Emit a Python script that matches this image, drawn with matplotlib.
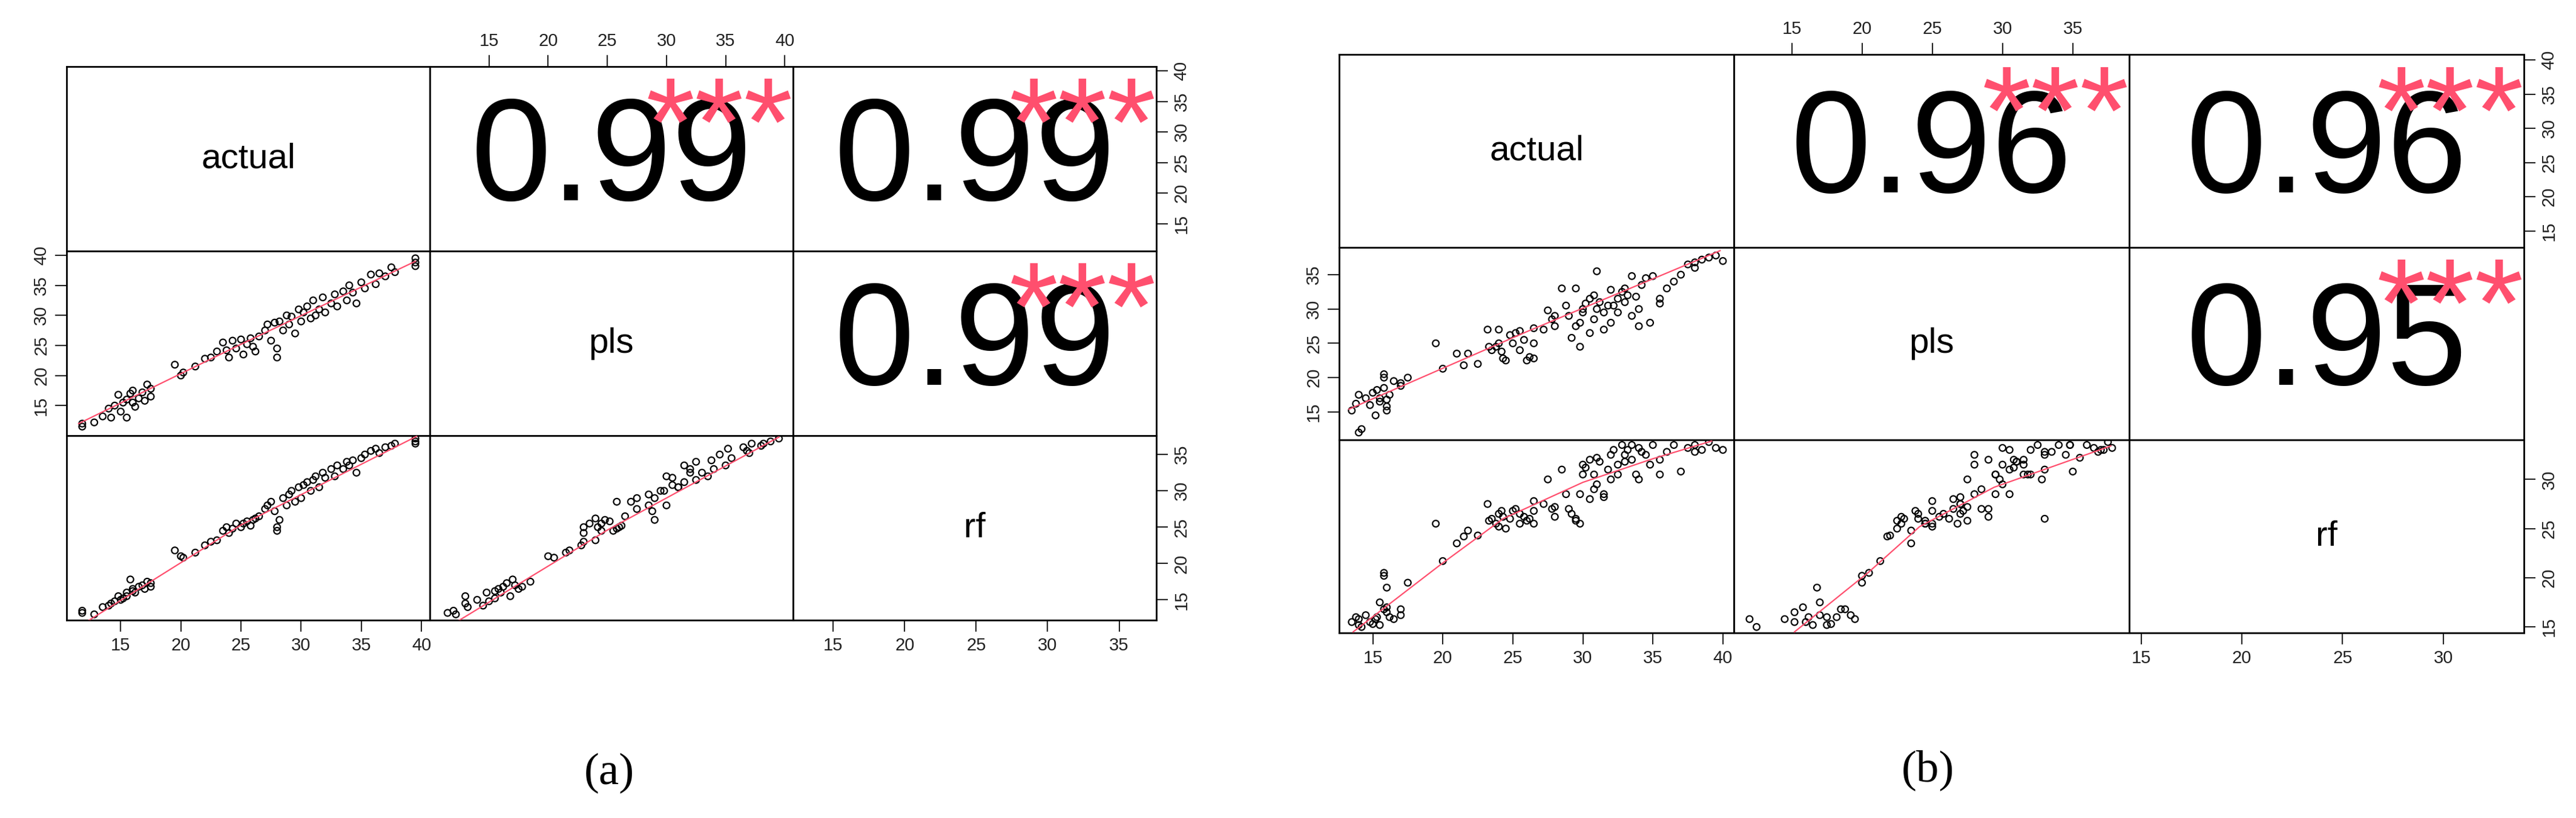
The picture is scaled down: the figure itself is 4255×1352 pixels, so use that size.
import matplotlib
matplotlib.use("Agg")
import matplotlib.pyplot as plt

plt.rcParams['font.family'] = ['Liberation Sans', 'DejaVu Sans']

NAMES = ["actual", "pls", "rf"]

# panel (a) observations
A_ACTUAL = [11.8, 11.8, 12.8, 13.5, 14.0, 14.2, 14.5, 14.8, 15.0, 15.2, 15.5, 15.5, 15.8, 16.0,
            16.0, 16.2, 16.5, 16.8, 17.0, 17.2, 17.5, 17.5, 19.5, 20.0, 20.2, 21.2, 22.0, 22.5,
            23.0, 23.5, 23.8, 24.0, 24.3, 24.6, 25.0, 25.2, 25.5, 25.8, 26.0, 26.2, 26.5, 27.0,
            27.2, 27.5, 27.8, 28.0, 28.0, 28.2, 28.5, 28.8, 29.0, 29.2, 29.5, 29.8, 30.0, 30.2,
            30.5, 30.8, 31.0, 31.2, 31.5, 31.8, 32.0, 32.5, 32.8, 33.0, 33.5, 33.8, 34.0, 34.3,
            34.6, 35.0, 35.3, 35.8, 36.2, 36.5, 37.0, 37.5, 37.8, 39.5, 39.5, 39.5]
A_PLS = [11.5, 12.0, 12.2, 13.2, 14.5, 13.0, 15.0, 16.8, 14.0, 15.5, 16.0, 13.0, 17.0, 15.5,
         17.5, 14.8, 16.2, 17.2, 15.8, 18.5, 16.5, 17.8, 21.8, 20.0, 20.5, 21.5, 22.8, 23.0,
         24.0, 25.5, 24.2, 23.0, 25.8, 24.5, 26.0, 23.5, 25.2, 26.2, 24.8, 24.0, 26.5, 27.5,
         28.5, 25.8, 28.8, 24.5, 23.0, 29.0, 27.5, 30.0, 28.5, 29.8, 27.0, 31.0, 29.0, 30.5,
         31.5, 29.5, 32.5, 30.0, 31.0, 33.0, 30.5, 32.0, 33.5, 31.5, 34.0, 32.5, 35.0, 33.8,
         32.0, 35.5, 34.5, 36.8, 35.2, 37.0, 36.5, 38.0, 37.2, 38.2, 39.5, 38.8]
A_RF = [13.2, 13.5, 13.0, 14.0, 14.2, 14.5, 14.8, 15.5, 15.0, 15.2, 16.0, 15.5, 17.8, 16.2,
        16.5, 16.0, 16.8, 17.0, 16.5, 17.5, 17.3, 16.8, 21.8, 21.0, 20.8, 21.5, 22.5, 23.0,
        23.2, 24.5, 25.0, 24.2, 24.8, 25.5, 25.0, 25.5, 25.8, 25.2, 26.0, 26.2, 26.5, 27.5,
        28.0, 28.5, 27.2, 24.5, 25.0, 26.0, 29.0, 28.0, 29.5, 30.0, 28.5, 30.5, 29.0, 30.8,
        31.2, 30.0, 31.5, 32.0, 30.5, 32.5, 31.8, 33.0, 32.0, 33.5, 33.0, 34.0, 33.5, 34.2,
        32.5, 34.5, 35.0, 35.5, 35.8, 35.2, 36.0, 36.2, 36.5, 36.5, 37.2, 36.8]

# panel (b) observations
B_ACTUAL = [13.5, 13.8, 14.0, 14.0, 14.2, 14.5, 14.8, 15.0, 15.2, 15.3, 15.5, 15.5, 15.8, 15.8,
            15.8, 16.0, 16.0, 16.0, 16.2, 16.5, 17.0, 17.0, 17.5, 19.5, 20.0, 21.0, 21.5, 21.8,
            22.5, 23.2, 23.3, 23.5, 23.8, 24.0, 24.0, 24.2, 24.3, 24.5, 24.8, 25.0, 25.2, 25.5,
            25.5, 25.8, 26.0, 26.2, 26.5, 26.5, 26.5, 27.2, 27.5, 27.8, 28.0, 28.0, 28.5, 28.8,
            29.0, 29.2, 29.5, 29.5, 29.8, 29.8, 30.0, 30.0, 30.2, 30.5, 30.5, 30.8, 30.8, 31.0,
            31.0, 31.2, 31.5, 31.5, 31.8, 32.0, 32.0, 32.2, 32.5, 32.5, 32.8, 33.0, 33.0, 33.2,
            33.5, 33.5, 33.8, 34.0, 34.0, 34.2, 34.5, 34.8, 35.0, 35.5, 35.5, 36.0, 36.5, 37.0,
            37.5, 38.0, 38.0, 38.5, 39.0, 39.5, 40.0]
B_PLS = [15.2, 16.2, 17.5, 12.0, 12.5, 17.0, 16.0, 17.8, 14.5, 18.2, 16.5, 17.0, 20.5, 20.0,
         18.5, 16.8, 15.2, 15.8, 17.5, 19.5, 18.8, 19.2, 20.0, 25.0, 21.3, 23.5, 21.8, 23.5,
         22.0, 27.0, 24.5, 24.0, 24.5, 27.0, 25.0, 23.8, 22.8, 22.5, 26.2, 25.0, 26.5, 24.0,
         26.8, 25.5, 22.5, 23.0, 25.0, 27.2, 22.8, 27.0, 29.8, 28.5, 27.5, 29.0, 33.0, 30.5,
         29.0, 25.8, 27.5, 33.0, 28.0, 24.5, 30.0, 29.5, 30.8, 31.5, 26.5, 32.0, 28.5, 35.5,
         30.0, 31.0, 27.0, 29.5, 30.5, 32.8, 28.0, 30.5, 31.5, 29.5, 32.5, 33.0, 31.0, 32.0,
         29.0, 34.8, 31.8, 30.0, 27.5, 33.5, 34.5, 28.0, 34.8, 31.5, 30.8, 33.0, 34.0, 35.0,
         36.5, 36.0, 36.8, 37.2, 37.5, 37.8, 37.0]
B_RF = [15.5, 16.0, 15.2, 15.8, 15.0, 16.2, 15.5, 15.3, 15.8, 16.0, 15.2, 17.5, 20.5, 20.2,
        16.8, 19.0, 16.5, 17.0, 16.0, 15.8, 16.8, 16.2, 19.5, 25.5, 21.7, 23.5, 24.2, 24.8,
        24.3, 27.5, 25.8, 26.0, 25.5, 26.5, 25.2, 26.8, 26.2, 25.0, 26.0, 26.8, 27.0, 26.5,
        25.5, 26.2, 25.8, 26.0, 27.8, 26.8, 25.5, 27.5, 30.0, 27.0, 27.2, 26.2, 31.0, 28.5,
        27.0, 26.5, 25.8, 26.0, 28.5, 25.5, 31.5, 30.5, 31.2, 32.0, 28.0, 30.5, 29.0, 32.2,
        29.5, 31.8, 28.2, 28.5, 31.0, 30.0, 32.5, 33.0, 31.5, 30.5, 33.5, 32.5, 31.8, 33.0,
        32.0, 33.5, 30.5, 33.2, 30.0, 32.8, 32.5, 31.5, 33.5, 30.5, 32.0, 32.8, 33.5, 30.8,
        33.2, 33.5, 32.8, 33.0, 33.8, 33.2, 33.0]

# smoother (red) lines: (x, y) vertices per lower panel
A_SMOOTH = {(1, 0): ([11.5, 25.0, 39.5], [12.0, 25.2, 39.0]),
            (2, 0): ([11.9, 25.0, 39.6], [11.7, 25.3, 37.5]),
            (2, 1): ([12.0, 25.0, 39.5], [11.7, 24.6, 37.4])}
B_SMOOTH = {(1, 0): ([13.3, 26.0, 39.8], [15.4, 26.7, 38.5]),
            (2, 0): ([13.6, 19.9, 24.3, 30.0, 35.0, 39.2], [14.5, 21.4, 26.0, 29.7, 32.1, 33.9]),
            (2, 1): ([15.2, 20.5, 24.1, 29.4, 37.7], [14.5, 20.6, 25.2, 29.2, 33.4])}

A_CORR = {(0, 1): "0.99", (0, 2): "0.99", (1, 2): "0.99"}
B_CORR = {(0, 1): "0.96", (0, 2): "0.96", (1, 2): "0.95"}

A_LIMITS = [(10.5, 40.7), (10.0, 40.7), (12.2, 37.6)]
B_LIMITS = [(12.6, 40.8), (10.9, 39.0), (14.4, 34.0)]
A_TICKS = [[15, 20, 25, 30, 35, 40], [15, 20, 25, 30, 35, 40], [15, 20, 25, 30, 35]]
B_TICKS = [[15, 20, 25, 30, 35, 40], [15, 20, 25, 30, 35], [15, 20, 25, 30]]

W, H = 4255, 1352
STAR_COLOR = "#ff4f6e"


def pairs_panel(fig, box, data, smooth, corr, limits, ticks, tag, tag_xy):
    x0, y0, x1, y1 = box  # pixels, top-left origin
    cw = (x1 - x0) / 3
    ch = (y1 - y0) / 3
    for i in range(3):
        for j in range(3):
            left = (x0 + j * cw) / W
            bottom = 1 - (y0 + (i + 1) * ch) / H
            ax = fig.add_axes([left, bottom, cw / W, ch / H])
            ax.set_xlim(limits[j])
            ax.set_ylim(limits[i])
            for s in ax.spines.values():
                s.set_linewidth(2)
            ax.tick_params(which="both", bottom=False, top=False, left=False, right=False,
                           labelbottom=False, labeltop=False, labelleft=False, labelright=False)
            if i == j:
                ax.text(0.5, 0.5, NAMES[i], transform=ax.transAxes, ha="center", va="center",
                        fontsize=42)
            elif i < j:
                ax.text(0.5, 0.48, corr[(i, j)], transform=ax.transAxes, ha="center",
                        va="center", fontsize=172)
                ax.text(1.0, 0.96, "***", transform=ax.transAxes, ha="right", va="top",
                        fontsize=150, color=STAR_COLOR)
            else:
                ax.scatter(data[j], data[i], s=60, facecolors="none", edgecolors="black",
                           linewidths=1.6, zorder=2)
                sx, sy = smooth[(i, j)]
                ax.plot(sx, sy, color="#ff4f6e", lw=1.6, zorder=3)
            # outer axes ticks, R pairs style
            kw = dict(length=14, width=1.5, labelsize=21, colors="#222222", pad=6)
            if i == 0 and j == 1:
                ax.set_xticks(ticks[j])
                ax.tick_params(axis="x", top=True, labeltop=True, **kw)
            if i == 2 and j in (0, 2):
                ax.set_xticks(ticks[j])
                ax.tick_params(axis="x", bottom=True, labelbottom=True, **kw)
            if j == 0 and i == 1:
                ax.set_yticks(ticks[i])
                ax.tick_params(axis="y", left=True, labelleft=True, labelrotation=90, **kw)
            if j == 2 and i in (0, 2):
                ax.set_yticks(ticks[i])
                ax.tick_params(axis="y", right=True, labelright=True, labelrotation=90, **kw)
            for lab in ax.get_yticklabels():
                lab.set_va("center")
    fig.text(tag_xy[0] / W, 1 - tag_xy[1] / H, tag, ha="center", va="center",
             fontsize=54, family=["Liberation Serif"])


fig = plt.figure(figsize=(W / 100, H / 100), dpi=100)
pairs_panel(fig, (110, 110, 1910, 1025), [A_ACTUAL, A_PLS, A_RF], A_SMOOTH, A_CORR,
            A_LIMITS, A_TICKS, "(a)", (1006, 1278))
pairs_panel(fig, (2212, 90, 4169, 1046), [B_ACTUAL, B_PLS, B_RF], B_SMOOTH, B_CORR,
            B_LIMITS, B_TICKS, "(b)", (3184, 1273))
fig.savefig("out.png", dpi=100, facecolor="white")
